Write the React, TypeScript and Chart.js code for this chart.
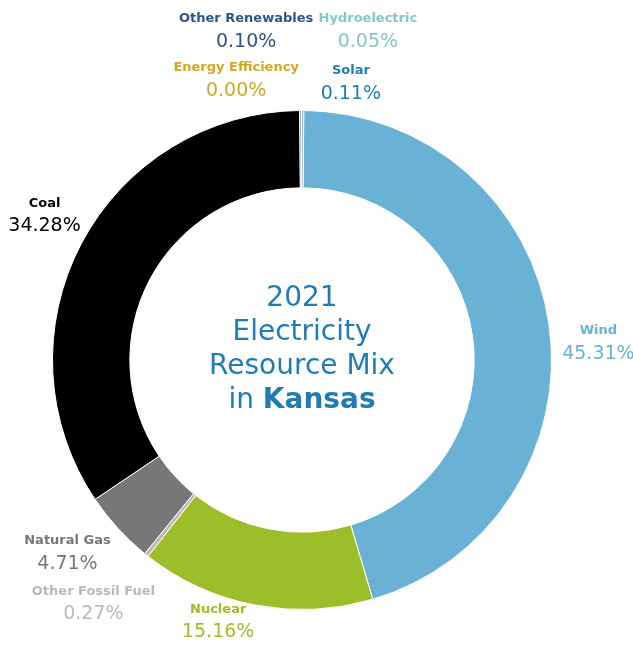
import React, { useEffect, useRef } from "react";
import { Chart, registerables } from "chart.js";
Chart.register(...registerables);

const categories = ["Wind", "Nuclear", "Other Fossil Fuel", "Natural Gas", "Coal", "Energy Efficiency", "Other Renewables", "Hydroelectric", "Solar"];
const shares = [45.31, 15.16, 0.27, 4.71, 34.28, 0.0, 0.1, 0.05, 0.11];
const colors = ["#6AB2D5", "#9BBE2A", "#BFB8B2", "#777777", "#000000", "#D6A520", "#2E5587", "#86C7C3", "#1F7DB4"];
const titleLines = ["2021", "Electricity", "Resource Mix"];
const titleLast = ["in ", "Kansas"];

// label anchors, relative to chart center in units of outer radius
const labelAnchors: Record<string, [number, number]> = {
  "Wind": [1.188, -0.116],
  "Nuclear": [-0.336, 1.0],
  "Other Fossil Fuel": [-0.836, 0.928],
  "Natural Gas": [-0.94, 0.724],
  "Coal": [-1.032, -0.628],
  "Energy Efficiency": [-0.264, -1.172],
  "Other Renewables": [-0.224, -1.368],
  "Hydroelectric": [0.264, -1.368],
  "Solar": [0.196, -1.16],
};

const FONT = "'DejaVu Sans', sans-serif";

const labelPlugin = {
  id: "sliceLabels",
  afterDraw(chart: any) {
    const ctx = chart.ctx;
    const meta = chart.getDatasetMeta(0);
    const arc = meta.data[0];
    const cx = arc.x, cy = arc.y, R = arc.outerRadius;
    ctx.save();
    ctx.textAlign = "center";
    ctx.textBaseline = "middle";
    categories.forEach((name, i) => {
      const [ax, ay] = labelAnchors[name];
      const x = cx + ax * R, y = cy + ay * R;
      ctx.fillStyle = colors[i];
      ctx.font = `bold 13px ${FONT}`;
      ctx.fillText(name, x, y);
      ctx.font = `19px ${FONT}`;
      ctx.fillText(shares[i].toFixed(2) + "%", x, y + 23);
    });
    // center title
    ctx.fillStyle = "#1F7DB4";
    const lh = 34;
    const top = cy - 1.5 * lh - 10;
    const fs = 28;
    titleLines.forEach((t, k) => {
      ctx.font = `${fs}px ${FONT}`;
      ctx.fillText(t, cx, top + k * lh);
    });
    ctx.font = `${fs}px ${FONT}`;
    const w1 = ctx.measureText(titleLast[0]).width;
    ctx.font = `bold ${fs}px ${FONT}`;
    const w2 = ctx.measureText(titleLast[1]).width;
    const sx = cx - (w1 + w2) / 2;
    ctx.textAlign = "left";
    ctx.font = `${fs}px ${FONT}`;
    ctx.fillText(titleLast[0], sx, top + 3 * lh);
    ctx.font = `bold ${fs}px ${FONT}`;
    ctx.fillText(titleLast[1], sx + w1, top + 3 * lh);
    ctx.restore();
  },
};

export default function App() {
  const ref = useRef<HTMLCanvasElement>(null);
  useEffect(() => {
    document.body.style.margin = "0";
    const chart = new Chart(ref.current!, {
      type: "doughnut",
      data: {
        labels: categories,
        datasets: [{
          data: shares,
          backgroundColor: colors,
          borderColor: "#ffffff",
          borderWidth: 1,
        }],
      },
      options: {
        animation: false,
        responsive: false,
        cutout: "69%",
        rotation: 0.4,
        layout: { padding: { left: 52, right: 81, top: 110, bottom: 35 } },
        plugins: { legend: { display: false }, tooltip: { enabled: false } },
      },
      plugins: [labelPlugin],
    });
    return () => chart.destroy();
  }, []);
  return (
    <div style={{ width: 633, height: 645 }}>
      <canvas ref={ref} width={633} height={645} />
    </div>
  );
}
